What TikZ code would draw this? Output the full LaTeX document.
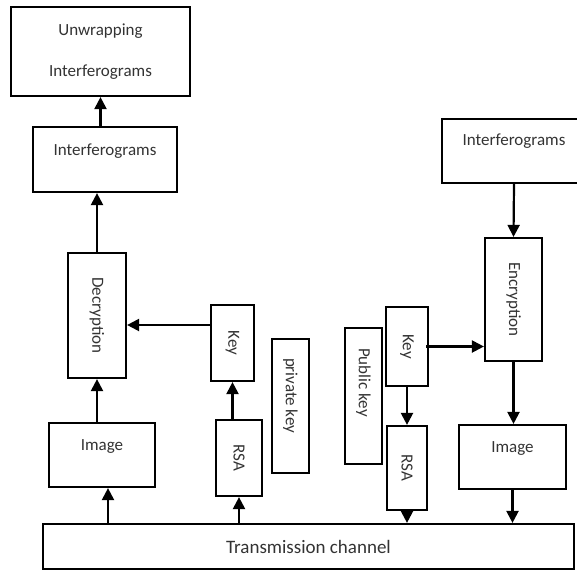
\documentclass[tikz,border=0pt]{standalone}
\usepackage{fontspec}
\setmainfont{Carlito}
\usetikzlibrary{arrows.meta}

\begin{document}
\begin{tikzpicture}[x=1pt, y=-1pt, ->, >={Triangle[width=12pt,length=12pt]}, line width=2.2pt,
		nodes={draw, rectangle, line width=2.2pt, inner sep=0pt, text=black!80, font=\fontsize{17}{20}\selectfont}]
		\useasboundingbox (0,0) rectangle (577,571);
		\clip (0,0) rectangle (577,571);
		\node (unw) [minimum width=179, minimum height=89, align=center] at (100.5,51.5) {Unwrapping\\[21pt]Interferograms};
		\node (intl) [minimum width=144, text height=28.5pt, text depth=36.5pt] at (105,159.5) {Interferograms};
		\node (dec) [minimum width=58, minimum height=125] at (97,315.5) {\rotatebox{-90}{Decryption}};
		\node (keyl) [minimum width=43, minimum height=76] at (232.5,343) {\rotatebox{-90}{Key}};
		\node (privk) [minimum width=37, minimum height=134] at (290.5,406) {\rotatebox{-90}{\makebox[96pt][l]{private key}}};
		\node (rsal) [minimum width=46, minimum height=76] at (239,458) {\rotatebox{-90}{RSA}};
		\node (imgl) [minimum width=106, text height=27.5pt, text depth=36.5pt] at (102,455) {Image};
		\node (trans) [minimum width=531, minimum height=45, font=\fontsize{19}{22}\selectfont] at (308.5,546.5) {Transmission channel};
		\node (intr) [minimum width=144, text height=26.5pt, text depth=37.5pt] at (514,151) {Interferograms};
		\node (enc) [minimum width=57, minimum height=123] at (513.5,299.5) {\rotatebox{-90}{Encryption}};
		\node (keyr) [minimum width=42, minimum height=79] at (407,346.5) {\rotatebox{-90}{Key}};
		\node (pubk) [minimum width=37, minimum height=136] at (363.5,396) {\rotatebox{-90}{\makebox[96pt][l]{Public key}}};
		\node (rsar) [minimum width=40, minimum height=84] at (407,468) {\rotatebox{-90}{RSA}};
		\node (imgr) [minimum width=107, text height=27.5pt, text depth=36.5pt] at (512.5,457) {Image};
		\draw (intl.north -| unw.south) -- (unw.south);
		\draw (dec.north) -- (dec.north |- intl.south);
		\draw (imgl.north -| dec.south) -- (dec.south);
		\draw ([xshift=6pt]imgl.south |- trans.north) -- ([xshift=6pt]imgl.south);
		\draw ([yshift=18pt]keyl.west) -- ([yshift=18pt]keyl.west -| dec.east);
		\draw (rsal.north -| keyl.south) -- (keyl.south);
		\draw (rsal.south |- trans.north) -- (rsal.south);
		\draw (intr.south) -- (enc.north);
		\draw ([xshift=-3pt]keyr.east) -- (keyr.east -| enc.west);
		\draw (keyr.south) -- (rsar.north);
		\draw (rsar.south) -- (rsar.south |- trans.north);
		\draw (enc.south) -- (enc.south |- imgr.north);
		\draw (imgr.south) -- (imgr.south |- trans.north);
	\end{tikzpicture}
\end{document}
